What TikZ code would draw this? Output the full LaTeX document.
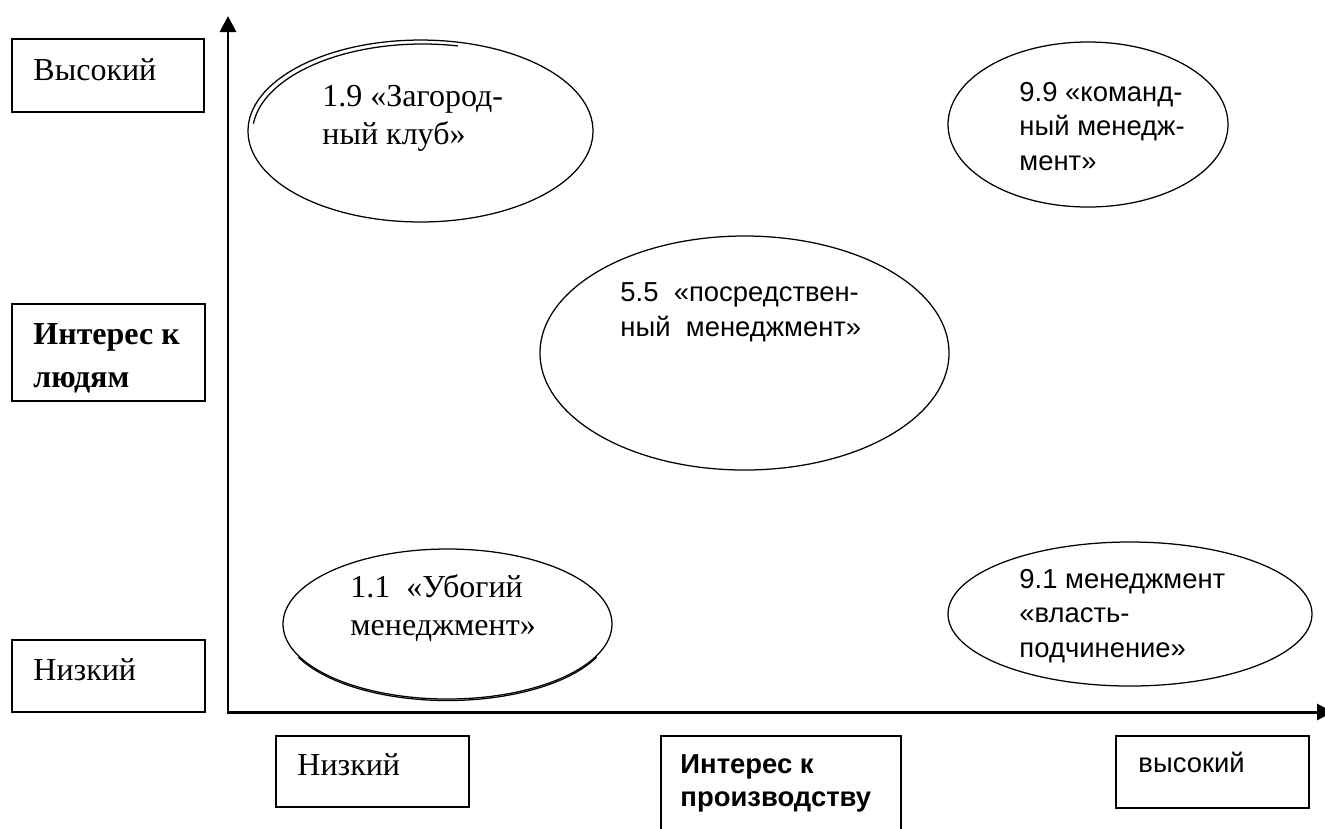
\documentclass[tikz,border=0pt]{standalone}
\usepackage{fontspec}
\setmainfont{Liberation Serif}
\newfontfamily\arialf{Liberation Sans}
\usetikzlibrary{shapes.geometric,arrows.meta}
\begin{document}
\begin{tikzpicture}[x=0.4375pt,y=-0.4375pt,
  box/.style={draw, line width=0.65pt, rectangle, inner sep=0pt},
  oval/.style={draw, ellipse, line width=0.55pt, inner sep=0pt},
  ovalline/.style={line width=0.55pt},
  axisline/.style={line width=1.3pt, line join=miter, {Triangle[width=7pt,length=7pt]}-{Triangle[width=7pt,length=7pt]}},
  tnr/.style={font=\fontsize{14}{16.3}\selectfont, anchor=base west, inner sep=0pt, align=left},
  tnrb/.style={font=\bfseries\fontsize{14}{18.8}\selectfont, anchor=base west, inner sep=0pt, align=left},
  ari/.style={font=\arialf\fontsize{12}{15}\selectfont, anchor=base west, inner sep=0pt, align=left},
  arib/.style={font=\arialf\bfseries\fontsize{12}{14.4}\selectfont, anchor=base west, inner sep=0pt, align=left},
]
\useasboundingbox (0,0) rectangle (1325,828);

% axes
\coordinate (ytip) at (228,16);
\coordinate (O) at (228,712);
\coordinate (xtip) at (1333,712);
\draw[axisline] (ytip) -- (O) -- (xtip);

% left boxes
\node[box, minimum width=84pt, minimum height=31.94pt] (lhigh) at (108,75.5) {};
\node[tnr] (lhight) at (33,80) {Высокий};
\node[box, minimum width=84.44pt, minimum height=42.44pt] (lmid) at (108.5,352.5) {};
\node[tnrb] (lmidt) at (33,387) {Интерес к\\людям};
\node[box, minimum width=84.44pt, minimum height=31.5pt] (llow) at (108.5,676) {};
\node[tnr] (llowt) at (33,680) {Низкий};

% bottom boxes
\node[box, minimum width=84.44pt, minimum height=31.06pt] (blow) at (372.5,771.5) {};
\node[tnr] (blowt) at (297,775) {Низкий};
\node[box, minimum width=105pt, minimum height=45.94pt] (bmid) at (781,788.5) {};
\node[arib] (bmidt) at (680,806) {Интерес к\\производству};
\node[box, minimum width=84.44pt, minimum height=31.5pt] (bhigh) at (1212.5,772) {};
\node[ari] (bhight) at (1138,772) {высокий};

% ellipses
\node[oval, minimum width=150.94pt, minimum height=79.6pt] (e19) at (420.5,131) {};
\draw[ovalline] (422.5,133) ++(186:170 and 89) arc[start angle=186, end angle=282, x radius=170, y radius=89];
\node[tnr] (e19t) at (322,144) {1.9 «Загород-\\ный клуб»};

\node[oval, minimum width=122.5pt, minimum height=72.19pt] (e99) at (1088,124.5) {};
\node[ari] (e99t) at (1019,170) {9.9 «команд-\\ный менедж-\\мент»};

\node[oval, minimum width=178.94pt, minimum height=102.38pt] (e55) at (744.5,353) {};
\node[ari] (e55t) at (620,336) {5.5\ \ «посредствен-\\ный\ \ менеджмент»};

\node[oval, minimum width=143.94pt, minimum height=65.63pt] (e11) at (447.5,624) {};
\draw[ovalline] (447.5,625.5) ++(25:164.5 and 75) arc[start angle=25, end angle=155, x radius=164.5, y radius=75];
\node[tnr] (e11t) at (350,635) {1.1\ \ «Убогий\\менеджмент»};

\node[oval, minimum width=159.25pt, minimum height=63pt] (e91) at (1130,614) {};
\node[ari] (e91t) at (1019,657) {9.1 менеджмент\\«власть-\\подчинение»};
\end{tikzpicture}
\end{document}
